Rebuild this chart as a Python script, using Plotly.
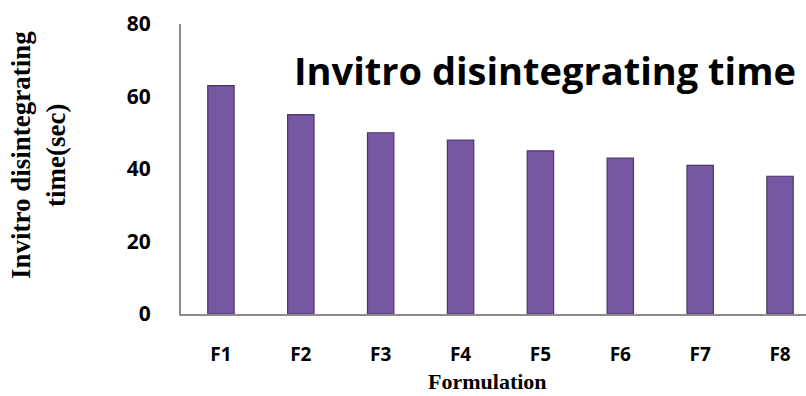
import plotly.graph_objects as go

# Disintegration time per formulation
formulations = ["F1", "F2", "F3", "F4", "F5", "F6", "F7", "F8"]
disintegration_sec = [63, 55, 50, 48, 45, 43, 41, 38]
y_ticks = [0, 20, 40, 60, 80]

fig = go.Figure()
fig.add_trace(go.Bar(
    x=formulations,
    y=disintegration_sec,
    width=0.33,
    marker=dict(color="#7557a2", line=dict(color="#4a356e", width=1.2)),
    showlegend=False,
))

sans = "'Open Sans', Lato, sans-serif"
serif = "'Liberation Serif', 'Times New Roman', serif"

fig.update_layout(
    width=806, height=396,
    margin=dict(l=181, r=0, t=24, b=82),
    paper_bgcolor="white", plot_bgcolor="white",
    xaxis=dict(
        range=[-0.5, 7.325],
        showline=True, linecolor="#8c8c8c", linewidth=2,
        showgrid=False, zeroline=False, ticks="",
        tickfont=dict(family=sans, size=19, color="black", weight="bold"),
        ticklabelstandoff=22,
    ),
    yaxis=dict(
        range=[0, 80], tickvals=y_ticks,
        showline=True, linecolor="#8c8c8c", linewidth=2,
        showgrid=False, zeroline=False, ticks="",
        tickfont=dict(family=sans, size=21, color="black", weight="bold"),
        ticklabelstandoff=24,
    ),
    annotations=[
        dict(text="Invitro disintegrating time", xref="paper", yref="paper",
             x=0.1776, y=0.841, xanchor="left", yanchor="middle", showarrow=False,
             font=dict(family=sans, size=38, color="black", weight="bold")),
        dict(text="Formulation", xref="paper", yref="paper",
             x=0.491, y=-0.232, xanchor="center", yanchor="middle", showarrow=False,
             font=dict(family=serif, size=22, color="black", weight="bold")),
        dict(text="Invitro disintegrating<br>time(sec)", xref="paper", yref="paper",
             x=-0.2288, y=0.548, xanchor="center", yanchor="middle", showarrow=False,
             textangle=-90,
             font=dict(family=serif, size=27, color="black", weight="bold")),
    ],
)

fig.write_html("out.html")
